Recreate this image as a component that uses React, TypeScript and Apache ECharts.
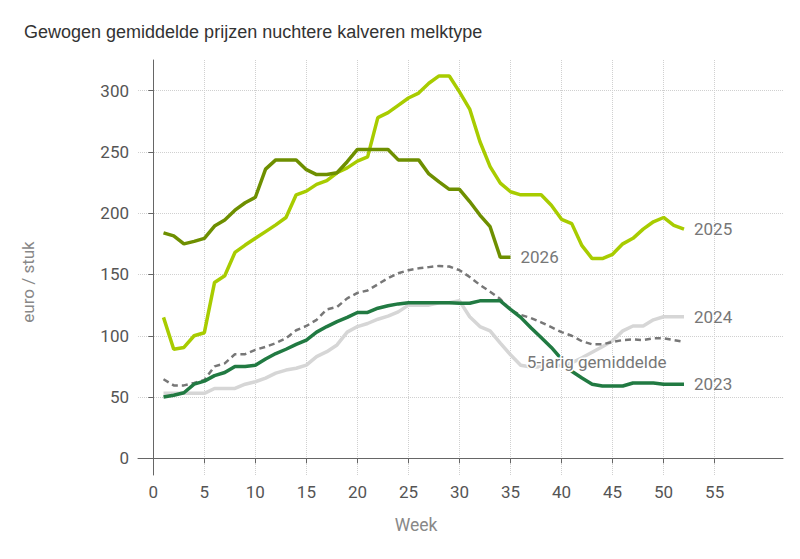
import * as echarts from "echarts";
import { useEffect, useRef } from "react";

// weken 1..52
const weeks = Array.from({ length: 52 }, (_, i) => i + 1);

const y2026 = [
  184, 181.5, 175, 177, 179.5, 189.5, 194.5, 202.5, 208.5, 213, 236, 243.5, 243.5, 243.5, 235.5, 231.5,
  231.5, 233, 242, 252, 252, 252, 252, 243.5, 243.5, 243.5, 232, 225.5, 219.5, 219.5, 209.5, 198.5, 189,
  164, 164,
];
const y2025 = [
  115, 89, 90.5, 100, 102.5, 143.5, 149, 168, 174, 179.5, 185, 190.5, 196.5, 215, 218, 223.5, 226.5, 233,
  237, 242.5, 246, 278, 282, 288, 294, 298, 306, 312, 312, 299, 285, 258.5, 238, 224.5, 217.5, 215, 215,
  215, 206.5, 195, 191.5, 173.5, 163, 163, 166.5, 175, 179.5, 187, 193, 196.5, 190, 187,
];
const y2024 = [
  53, 53, 53, 53, 53, 57, 57, 57, 60.5, 62.5, 65.5, 69.5, 72, 73.5, 76, 83, 87, 92.5, 103, 107.5, 110,
  113.5, 116, 119.5, 125, 125, 125, 127, 127, 128.5, 115.5, 107.5, 104, 94, 84.5, 76, 74.5, 74.5, 75, 76,
  78, 82, 86.5, 91, 96, 104, 108, 108, 113, 115.5, 115.5, 115.5,
];
const y2023 = [
  50, 51.5, 53.5, 60.5, 63, 67.5, 70, 75, 75, 76, 81, 85.5, 89, 93, 96.5, 103, 107.5, 111.5, 115, 119,
  119, 122.5, 124.5, 126, 127, 127, 127, 127, 127, 126.5, 126.5, 128.5, 128.5, 128.5, 121.5, 115, 106.5,
  98.5, 90.5, 81, 71, 65.5, 60.5, 59, 59, 59, 61.5, 61.5, 61.5, 60.5, 60.5, 60.5,
];
const avg5 = [
  64.5, 59.5, 59.5, 61.5, 64, 75, 77.5, 85, 85, 88.5, 91, 94, 98, 104.5, 108, 113, 121.5, 123.5, 130.5,
  135, 137, 142, 147, 151, 153.5, 155, 156, 157, 156.5, 153.5, 148, 141.5, 136, 130, 121, 117, 114.5, 111,
  107, 103, 100, 95.5, 93, 93, 95, 96.5, 97, 96.5, 98, 98, 96.5, 95,
];

const xTicks = [0, 5, 10, 15, 20, 25, 30, 35, 40, 45, 50, 55];
const yTicks = [0, 50, 100, 150, 200, 250, 300];

const pairs = (vals: number[]) => vals.map((v, i) => [weeks[i], v]);

const App = () => {
  const chartRef = useRef<HTMLDivElement | null>(null);

  useEffect(() => {
    const chart = echarts.init(chartRef.current!, undefined, { renderer: "svg" });

    const endLabel = {
      show: true,
      formatter: "{a}",
      distance: 10,
      color: "#777",
      fontSize: 17,
      fontFamily: "Roboto",
    };

    const option = {
      animation: false,
      title: {
        text: "Gewogen gemiddelde prijzen nuchtere kalveren melktype",
        left: 19,
        top: 18,
        textStyle: { fontFamily: "Liberation Sans", fontSize: 18, fontWeight: "normal", color: "#333" },
      },
      grid: { left: 138, right: 17, top: 60, bottom: 84 },
      xAxis: {
        type: "value",
        min: -1.5,
        max: 61.7,
        axisLine: { lineStyle: { color: "#666" } },
        axisTick: { show: true, customValues: xTicks, length: 5, lineStyle: { color: "#666" } },
        axisLabel: { customValues: xTicks, color: "#555", fontSize: 17, fontFamily: "Roboto", margin: 8 },
        splitLine: { show: true, lineStyle: { color: "#d0d0d0", type: "dotted" } },
      },
      yAxis: {
        type: "value",
        min: -13.6,
        max: 325,
        axisLine: { show: true, lineStyle: { color: "#666" } },
        axisTick: { show: true, customValues: yTicks, length: 5, lineStyle: { color: "#666" } },
        axisLabel: { customValues: yTicks, color: "#555", fontSize: 17, fontFamily: "Roboto", margin: 9 },
        splitLine: { show: true, lineStyle: { color: "#d0d0d0", type: "dotted" } },
      },
      graphic: [
        {
          type: "text",
          x: 28,
          y: 282,
          rotation: Math.PI / 2,
          style: {
            text: "euro / stuk",
            fill: "#888",
            fontSize: 17,
            fontFamily: "Roboto",
            align: "center",
            verticalAlign: "middle",
          },
        },
        {
          type: "text",
          x: 416,
          y: 525,
          style: {
            text: "Week",
            fill: "#888",
            fontSize: 17.5,
            fontFamily: "Roboto",
            align: "center",
            verticalAlign: "middle",
          },
        },
      ],
      series: [
        {
          name: "2024",
          type: "line",
          data: pairs(y2024),
          showSymbol: false,
          lineStyle: { color: "#d6d6d6", width: 3.5 },
          itemStyle: { color: "#d6d6d6" },
          endLabel,
        },
        {
          name: "5-jarig gemiddelde",
          type: "line",
          data: pairs(avg5),
          showSymbol: false,
          lineStyle: { color: "#777", width: 2.5, type: [6, 4] },
          itemStyle: { color: "#777" },
          markPoint: {
            symbol: "circle",
            symbolSize: 0,
            data: [{ coord: [36.6, 78.6] }],
            label: {
              show: true,
              position: "right",
              distance: 0,
              formatter: "5-jarig gemiddelde",
              color: "#777",
              fontSize: 17,
              fontFamily: "Roboto",
              textBorderColor: "#fff",
              textBorderWidth: 3,
            },
          },
        },
        {
          name: "2023",
          type: "line",
          data: pairs(y2023),
          showSymbol: false,
          lineStyle: { color: "#217a42", width: 3.5 },
          itemStyle: { color: "#217a42" },
          endLabel,
        },
        {
          name: "2025",
          type: "line",
          data: pairs(y2025),
          showSymbol: false,
          lineStyle: { color: "#a8cc00", width: 3.5 },
          itemStyle: { color: "#a8cc00" },
          endLabel,
        },
        {
          name: "2026",
          type: "line",
          data: pairs(y2026),
          showSymbol: false,
          lineStyle: { color: "#6e8f00", width: 3.5 },
          itemStyle: { color: "#6e8f00" },
          endLabel,
        },
      ],
    };

    chart.setOption(option);

    return () => {
      chart.dispose();
    };
  }, []);

  return (
    <div
      ref={chartRef}
      style={{ position: "fixed", left: 0, top: 0, width: "800px", height: "559px", background: "#fff" }}
    />
  );
};

export default App;
